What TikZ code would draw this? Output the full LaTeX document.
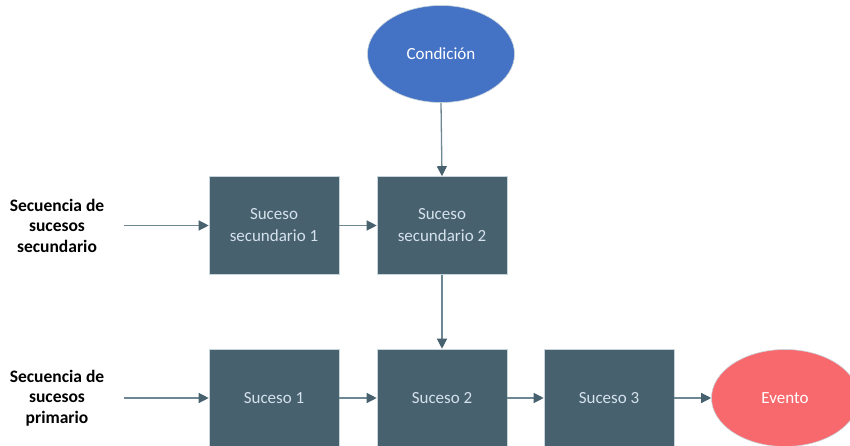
\documentclass[tikz,border=0pt]{standalone}
\usepackage{fontspec}
\setmainfont{Carlito}
\usetikzlibrary{shapes.geometric,arrows.meta}
\definecolor{slate}{HTML}{47616F}
\definecolor{slateline}{HTML}{6E8795}
\definecolor{boxtext}{HTML}{D5E2EC}
\definecolor{condblue}{HTML}{4472C4}
\definecolor{eventred}{HTML}{F7696C}
\definecolor{edge}{HTML}{C9D3DA}
\begin{document}
\begin{tikzpicture}[x=1pt,y=-1pt,
  stepbox/.style={rectangle, fill=slate, draw=edge, line width=0.6pt,
    minimum width=130pt, minimum height=98pt, inner sep=0pt,
    text=boxtext, font=\fontsize{17}{22}\selectfont, align=center},
  oval/.style={ellipse, minimum width=147pt, minimum height=97pt, inner sep=0pt,
    draw=edge, line width=0.6pt, text=white, font=\fontsize{17}{22}\selectfont},
  seqlabel/.style={align=center, font=\bfseries\fontsize{17.5}{20.5}\selectfont},
  flow/.style={draw=slateline, line width=1.3pt,
    -{Triangle[length=10pt,width=10pt,fill=slate,color=slate]}}
]
\useasboundingbox (0,0) rectangle (850,446);

% shapes
\node[oval, fill=condblue] (cond) at (441,54) {Condición};
\node[stepbox] (s1) at (274,225.5) {Suceso\\secundario 1};
\node[stepbox] (s2) at (442,225.5) {Suceso\\secundario 2};
\node[stepbox] (p1) at (274,398) {Suceso 1};
\node[stepbox] (p2) at (442,398) {Suceso 2};
\node[stepbox] (p3) at (609,398) {Suceso 3};
\node[oval, fill=eventred] (ev) at (785,398) {Evento};

% sequence labels
\node[seqlabel] (lsec) at (57,225.5) {Secuencia de\\sucesos\\secundario};
\node[seqlabel] (lpri) at (57,398) {Secuencia de\\sucesos\\primario};

% connectors
\coordinate (lsecend) at (124,225.5);
\coordinate (lpriend) at (124,398);
\draw[flow] (lsecend) -- (s1.west);
\draw[flow] (s1) -- (s2);
\draw[flow] (cond.south) -- (s2.north);
\draw[flow] (s2.south) -- (p2.north);
\draw[flow] (lpriend) -- (p1.west);
\draw[flow] (p1) -- (p2);
\draw[flow] (p2) -- (p3);
\draw[flow] (p3) -- (ev);
\end{tikzpicture}
\end{document}
